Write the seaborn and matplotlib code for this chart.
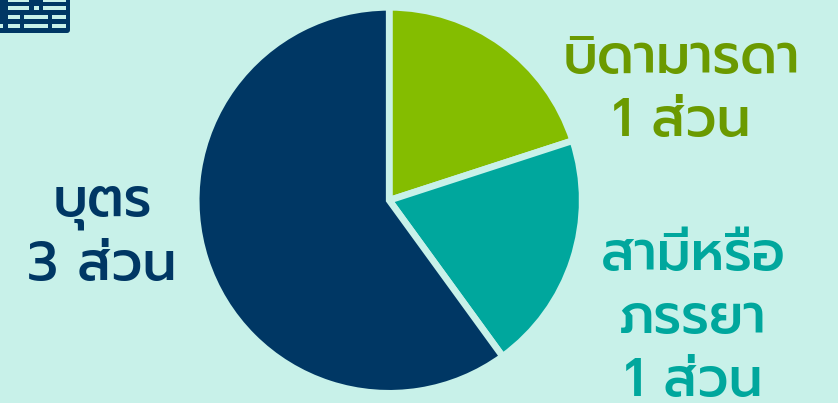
import matplotlib
matplotlib.use("Agg")
import matplotlib.pyplot as plt
import seaborn as sns
from matplotlib.patches import FancyBboxPatch, Rectangle

W, H = 838, 403
BG = "#C8F1E9"

shares = [1, 1, 3]
slice_colors = ["#84BD00", "#00A79D", "#003764"]

father_lines = ["บิดามารดา", "1 ส่วน"]
spouse_lines = ["สามีหรือ", "ภรรยา", "1 ส่วน"]
child_lines = ["บุตร", "3 ส่วน"]

sns.set_theme(style="white")
plt.rcParams["font.family"] = ["Prompt", "Kanit", "DejaVu Sans"]

fig = plt.figure(figsize=(W / 100, H / 100), dpi=100, facecolor=BG)

# pie axes, square, placed in pixels
cx, cy, r = 389.2, 200.3, 193
ax = fig.add_axes([(cx - r) / W, 1 - (cy + r) / H, 2 * r / W, 2 * r / H])
ax.pie(shares, colors=slice_colors, startangle=90, counterclock=False, radius=1,
       wedgeprops=dict(edgecolor=BG, linewidth=4.8))
ax.set_xlim(-1, 1)
ax.set_ylim(-1, 1)
ax.axis("off")

# overlay in pixel coords for the labels and the clipped icon
over = fig.add_axes([0, 0, 1, 1], facecolor="none")
over.set_xlim(0, W)
over.set_ylim(H, 0)
over.axis("off")


def put_lines(lines, x, baselines, color):
    for line, y in zip(lines, baselines):
        over.text(x, y, line, color=color, fontsize=38.5, fontweight="medium",
                  ha="center", va="baseline")


put_lines(father_lines, 681, [73, 136], "#6B9A00")
put_lines(spouse_lines, 693, [270, 333, 396], "#00A79D")
put_lines(child_lines, 102, [216, 280], "#003764")

# table icon cut by the top left corner
navy = "#003764"
over.add_patch(FancyBboxPatch((-10, -10), 80, 43, boxstyle="round,pad=0,rounding_size=3",
                              fc=navy, ec="none"))
cells = [(8, 0, 21, 1.5), (43, 0, 23, 1.5),
         (8, 6, 21, 4), (34, 6, 5, 4), (43, 6, 23, 4),
         (8, 15, 12, 4), (24, 15, 24, 4), (52, 15, 14, 4),
         (0, 24, 3, 4), (8, 24, 12, 4), (24, 24, 24, 4), (52, 24, 14, 4)]
for x0, y0, w, h in cells:
    over.add_patch(Rectangle((x0, y0), w, h, fc=BG, ec="none"))

fig.savefig("out.png", dpi=100, facecolor=BG)
